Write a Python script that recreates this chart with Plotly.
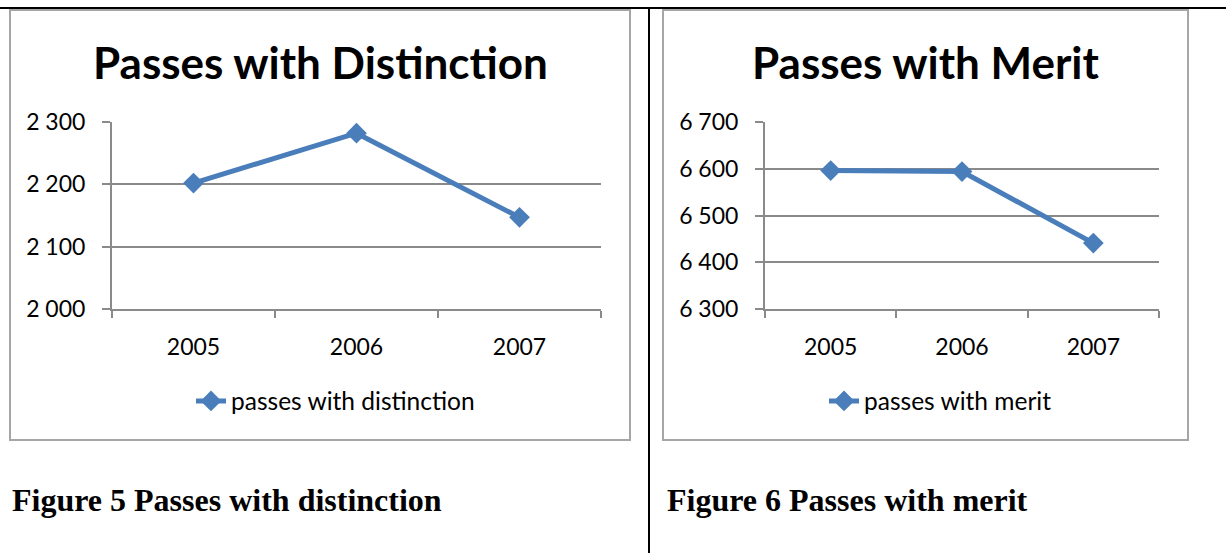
import plotly.graph_objects as go

W, H = 1226, 553

years = ["2005", "2006", "2007"]
distinction = [2202, 2282, 2147]
merit = [6596, 6594, 6441]
dist_ticks = [2000, 2100, 2200, 2300]
merit_ticks = [6300, 6400, 6500, 6600, 6700]

titles = ["Passes with Distinction", "Passes with Merit"]
series_names = ["passes with distinction", "passes with merit"]
captions = ["Figure 5 Passes with distinction", "Figure 6 Passes with merit"]

BLUE = "#4a7ebb"
GRID = "#8a8a8a"
BOX = "#a6a6a6"
FONT = "Lato"


def px(x):
    return x / W


def py(y):
    return 1 - y / H


fig = go.Figure()
fig.add_trace(go.Scatter(
    x=years, y=distinction, name=series_names[0], mode="lines+markers",
    line=dict(color=BLUE, width=5), marker=dict(symbol="diamond", size=16, color=BLUE),
    xaxis="x", yaxis="y", legend="legend"))
fig.add_trace(go.Scatter(
    x=years, y=merit, name=series_names[1], mode="lines+markers",
    line=dict(color=BLUE, width=5), marker=dict(symbol="diamond", size=16, color=BLUE),
    xaxis="x2", yaxis="y2", legend="legend2"))

tickfont = dict(family=FONT, size=23, color="black")
xcommon = dict(type="category", range=[-0.5, 2.5], tickson="boundaries", ticks="outside",
               ticklen=7, tickcolor=GRID, tickwidth=2, showline=True, linecolor=GRID,
               linewidth=2, showgrid=False, tickfont=tickfont, ticklabelstandoff=16,
               automargin=False, fixedrange=True)
ycommon = dict(ticks="outside", ticklen=8, tickcolor=GRID, tickwidth=2, showline=True,
               linecolor=GRID, linewidth=2, showgrid=True, gridcolor=GRID, gridwidth=2,
               tickfont=tickfont, tickformat=",d", ticklabelstandoff=12, zeroline=False,
               automargin=False, fixedrange=True)

legfont = dict(family=FONT, size=24.5, color="black")
yd = [py(309), py(122)]
fig.update_layout(
    template="none",
    width=W, height=H, autosize=False, margin=dict(l=0, r=0, t=0, b=0, pad=0),
    paper_bgcolor="white", plot_bgcolor="white",
    separators=". ",
    xaxis=dict(domain=[px(112), px(601)], anchor="y", **xcommon),
    yaxis=dict(domain=yd, anchor="x", range=[dist_ticks[0], dist_ticks[-1]],
               tickvals=dist_ticks, **ycommon),
    xaxis2=dict(domain=[px(765), px(1159)], anchor="y2", **xcommon),
    yaxis2=dict(domain=yd, anchor="x2", range=[merit_ticks[0], merit_ticks[-1]],
                tickvals=merit_ticks, **ycommon),
    legend=dict(x=px(191), y=py(401), xanchor="left", yanchor="middle",
                font=legfont, bgcolor="rgba(0,0,0,0)", borderwidth=0),
    legend2=dict(x=px(824), y=py(401), xanchor="left", yanchor="middle",
                 font=legfont, bgcolor="rgba(0,0,0,0)", borderwidth=0),
    showlegend=True,
)

# chart boxes
for x0, x1 in [(10, 630), (663, 1188)]:
    fig.add_shape(type="rect", xref="paper", yref="paper", x0=px(x0), x1=px(x1),
                  y0=py(440), y1=py(10), line=dict(color=BOX, width=2), layer="below")
# page lines
fig.add_shape(type="line", xref="paper", yref="paper", x0=0, x1=1, y0=py(8), y1=py(8),
              line=dict(color="black", width=2))
fig.add_shape(type="line", xref="paper", yref="paper", x0=px(649), x1=px(649), y0=py(8), y1=0,
              line=dict(color="black", width=2))

# titles
for cx, t in [(320, titles[0]), (926, titles[1])]:
    fig.add_annotation(xref="paper", yref="paper", x=px(cx), y=py(62), text="<b>" + t + "</b>",
                       showarrow=False, xanchor="center", yanchor="middle",
                       font=dict(family=FONT, size=44, color="black"))
# captions
for lx, c in [(10, captions[0]), (665, captions[1])]:
    fig.add_annotation(xref="paper", yref="paper", x=px(lx), y=py(500), text="<b>" + c + "</b>",
                       showarrow=False, xanchor="left", yanchor="middle",
                       font=dict(family="Liberation Serif", size=32, color="black"))

fig.write_html("out.html", config={"displayModeBar": False, "staticPlot": True},
               post_script="document.body.style.margin='0';document.body.style.overflow='hidden';")
